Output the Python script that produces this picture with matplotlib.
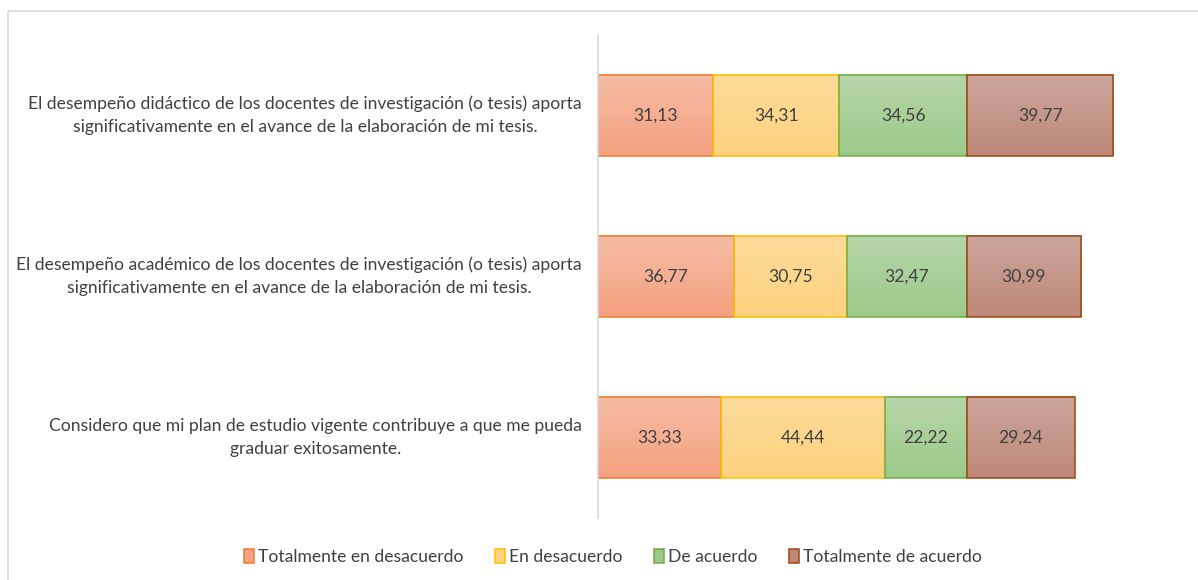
import numpy as np
import matplotlib
matplotlib.use('Agg')
import matplotlib.pyplot as plt
from matplotlib.patches import Patch
from matplotlib.lines import Line2D
from matplotlib.colors import LinearSegmentedColormap

plt.rcParams['font.family'] = ['Lato', 'DejaVu Sans']

# data
categories = [
    "El desempeño didáctico de los docentes de investigación (o tesis) aporta\n"
    "significativamente en el avance de la elaboración de mi tesis.",
    "El desempeño académico de los docentes de investigación (o tesis) aporta\n"
    "significativamente en el avance de la elaboración de mi tesis.",
    "Considero que mi plan de estudio vigente contribuye a que me pueda\n"
    "graduar exitosamente.",
]
series_names = ["Totalmente en desacuerdo", "En desacuerdo", "De acuerdo", "Totalmente de acuerdo"]
tot_desacuerdo = [31.13, 36.77, 33.33]
en_desacuerdo = [34.31, 30.75, 44.44]
de_acuerdo = [34.56, 32.47, 22.22]
tot_acuerdo = [39.77, 30.99, 29.24]
series_values = [tot_desacuerdo, en_desacuerdo, de_acuerdo, tot_acuerdo]

# (top, bottom, edge) colours, excel-like gradient
styles = [
    ('#F6BCA4', '#F4A181', '#ED7D31'),
    ('#FEDB9B', '#FDD27E', '#FFC000'),
    ('#B6D6A8', '#9CC98A', '#70AD47'),
    ('#CCA69C', '#BE8878', '#9E480E'),
]
fs = 12.6

fig = plt.figure(figsize=(11.98, 5.8), dpi=100)
ax = fig.add_axes([0.4992, 0.1069, 0.4925, 0.8328])

ypos = np.arange(len(categories))[::-1]
left = np.zeros(len(categories))
bar_h = 0.505
for name, vals, (top, bot, edge) in zip(series_names, series_values, styles):
    bars = ax.barh(ypos, vals, left=left, height=bar_h, facecolor='none',
                   edgecolor=edge, linewidth=1.1, zorder=2)
    cmap = LinearSegmentedColormap.from_list(name, [bot, top])
    grad = np.linspace(0, 1, 64).reshape(-1, 1)
    for rect, v in zip(bars, vals):
        x, y = rect.get_x(), rect.get_y()
        w, h = rect.get_width(), rect.get_height()
        ax.imshow(grad, extent=[x, x + w, y, y + h], origin='lower',
                  aspect='auto', cmap=cmap, zorder=1)
        ax.text(x + w / 2, y + h / 2, f"{v:.2f}".replace('.', ','),
                ha='center', va='center', fontsize=fs, color='#404040', zorder=3)
    left = left + np.array(vals)

ax.set_xlim(0, 160)
ax.set_ylim(-0.5, 2.5)
ax.set_yticks(ypos)
ax.set_yticklabels(categories, fontsize=fs, color='#404040', linespacing=1.55)
for lbl in ax.get_yticklabels():
    lbl.set_multialignment('center')
    lbl.set_verticalalignment('center')
ax.tick_params(axis='y', length=0, pad=11.5)
ax.set_xticks([])
for s in ['top', 'right', 'bottom']:
    ax.spines[s].set_visible(False)
ax.spines['left'].set_color('#D9D9D9')
ax.spines['left'].set_linewidth(1.2)

handles = [Patch(facecolor=bot, edgecolor=edge, linewidth=1.1) for (top, bot, edge) in styles]
fig.legend(handles, series_names, loc='center', bbox_to_anchor=(0.5117, 0.0397), ncol=4,
           frameon=False, fontsize=fs, handlelength=0.55, handleheight=0.85,
           handletextpad=0.25, columnspacing=1.8, labelcolor='#404040')

# chart area border (cut off at right and bottom)
fig.add_artist(Line2D([7.5 / 1198, 7.5 / 1198, 1.0], [0.0, 1 - 11 / 580, 1 - 11 / 580],
                      transform=fig.transFigure, color='#D9D9D9', linewidth=1.2))

fig.savefig('out.png', dpi=100)
